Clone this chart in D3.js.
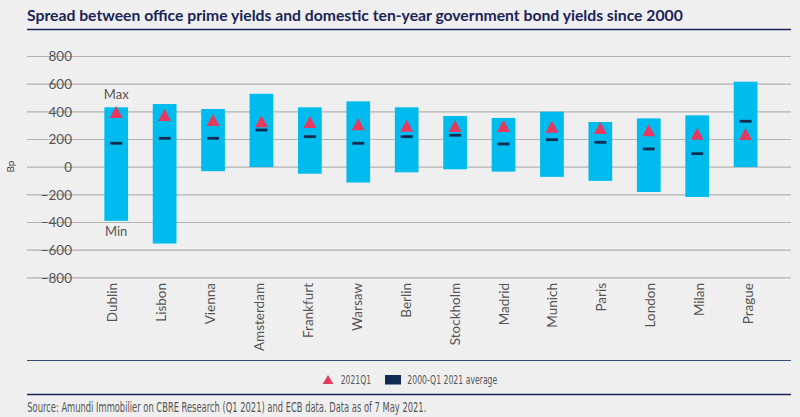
<!DOCTYPE html>
<html><head><meta charset="utf-8">
<script src="https://cdn.jsdelivr.net/npm/d3@7"></script>
<style>
html,body{margin:0;padding:0;background:#efefef;}
svg{display:block;}
</style></head>
<body>
<svg id="chart" width="800" height="417"></svg>
<script>
const cities = ["Dublin","Lisbon","Vienna","Amsterdam","Frankfurt","Warsaw","Berlin","Stockholm","Madrid","Munich","Paris","London","Milan","Prague"];
const maxValues = [429, 453, 417, 527, 429, 472, 429, 366, 352, 397, 323, 349, 371, 614];
const minValues = [-392, -556, -33, -3, -51, -115, -41, -19, -36, -74, -103, -183, -219, -3];
const q1Values  = [396, 373, 337, 328, 323, 306, 295, 293, 294, 289, 279, 263, 238, 236];
const avgValues = [169, 205, 205, 265, 217, 169, 217, 227, 164, 195, 176, 128, 94, 328];
const yTicks = [-800, -600, -400, -200, 0, 200, 400, 600, 800];
const titleText = "Spread between office prime yields and domestic ten-year government bond yields since 2000";
const sourceText = "Source: Amundi Immobilier on CBRE Research (Q1 2021) and ECB data. Data as of 7 May 2021.";
const legendLabels = ["2021Q1", "2000-Q1 2021 average"];

const BAR = "#00bcee", TRI = "#e8385f", NAVY = "#0f2d52", GRAY = "#555", TITLE = "#1a2456";
const svg = d3.select("#chart");
const baseFont = "Lato, 'Open Sans', sans-serif";
const narrowFont = "'Liberation Sans Narrow', 'DejaVu Sans Condensed', 'Liberation Sans', sans-serif";

const x = d3.scaleBand().domain(cities).range([92, 769.8]).paddingInner(0.51).paddingOuter(0.255);
const xl = d3.scalePoint().domain(cities).range([112.7, 748.3]);
const y = d3.scaleLinear().domain([-800, 800]).range([277.3, 56]);

// Title
const t = svg.append("text").attr("x", 27).attr("y", 21).text(titleText)
  .attr("font-family", "Lato, 'Open Sans', sans-serif").attr("font-weight", 700)
  .attr("font-size", 15).attr("fill", TITLE);
const tw = t.node().getComputedTextLength();
t.attr("font-size", 15 * 656 / tw);
svg.append("line").attr("x1", 27).attr("x2", 791).attr("y1", 29.5).attr("y2", 29.5)
  .attr("stroke", TITLE).attr("stroke-width", 1.6);

// Grid
const yAxis = d3.axisLeft(y).tickValues(yTicks).tickSize(-764).tickPadding(0).tickFormat(d3.format("d"));
const ga = svg.append("g").attr("transform", "translate(27,0)").call(yAxis);
ga.select(".domain").remove();
ga.selectAll(".tick line").attr("stroke", "#b3b3b3").attr("stroke-width", 1.2);
ga.selectAll(".tick text").attr("x", 45).attr("dy", "0.35em").attr("text-anchor", "end")
  .attr("font-family", baseFont).attr("font-size", 13.5).attr("fill", GRAY);

svg.append("text").attr("transform", "translate(10,166.5) rotate(-90)")
  .attr("text-anchor", "middle").attr("dy", "0.35em").text("Bp")
  .attr("font-family", baseFont).attr("font-size", 10).attr("fill", "#444");

// Bars
svg.append("g").selectAll("rect").data(cities).join("rect")
  .attr("x", d => x(d)).attr("width", x.bandwidth())
  .attr("y", (d, i) => y(maxValues[i]))
  .attr("height", (d, i) => y(minValues[i]) - y(maxValues[i]))
  .attr("fill", BAR);

// Average dashes
svg.append("g").selectAll("rect").data(cities).join("rect")
  .attr("x", d => x(d) + x.bandwidth() / 2 - 6).attr("width", 12)
  .attr("y", (d, i) => y(avgValues[i]) - 1.4).attr("height", 2.8)
  .attr("fill", NAVY);

// Triangles
const triPath = (cx, cy, hw, hh) => `M${cx},${cy - hh}L${cx + hw},${cy + hh}L${cx - hw},${cy + hh}Z`;
svg.append("g").selectAll("path").data(cities).join("path")
  .attr("d", (d, i) => triPath(x(d) + x.bandwidth() / 2, y(q1Values[i]), 6.5, 6))
  .attr("fill", TRI);

// Max / Min annotations
const dc = x(cities[0]) + x.bandwidth() / 2;
svg.append("text").attr("x", dc).attr("y", y(maxValues[0]) - 8).attr("text-anchor", "middle")
  .text("Max").attr("font-family", baseFont).attr("font-size", 13).attr("fill", GRAY);
svg.append("text").attr("x", dc).attr("y", y(minValues[0]) + 15.5).attr("text-anchor", "middle")
  .text("Min").attr("font-family", baseFont).attr("font-size", 13).attr("fill", GRAY);

// City labels
svg.append("g").selectAll("text").data(cities).join("text")
  .attr("transform", d => `translate(${xl(d)},283) rotate(-90)`)
  .attr("text-anchor", "end").attr("dy", "0.35em").text(d => d)
  .attr("font-family", baseFont).attr("font-size", 13.5).attr("fill", GRAY);

// Legend
svg.append("line").attr("x1", 27).attr("x2", 791).attr("y1", 360.5).attr("y2", 360.5)
  .attr("stroke", "#34506e").attr("stroke-width", 1);
svg.append("path").attr("d", triPath(328, 379.5, 5.3, 4.6)).attr("fill", TRI);
svg.append("text").attr("x", 340.7).attr("y", 380).attr("dy", "0.35em").text(legendLabels[0])
  .attr("font-family", narrowFont).attr("font-size", 12.5).attr("fill", GRAY)
  .attr("textLength", 30.5).attr("lengthAdjust", "spacingAndGlyphs");
svg.append("rect").attr("x", 385).attr("y", 375).attr("width", 16).attr("height", 9.5).attr("fill", NAVY);
svg.append("text").attr("x", 407.3).attr("y", 380).attr("dy", "0.35em").text(legendLabels[1])
  .attr("font-family", narrowFont).attr("font-size", 12.5).attr("fill", GRAY)
  .attr("textLength", 90).attr("lengthAdjust", "spacingAndGlyphs");
svg.append("line").attr("x1", 27).attr("x2", 791).attr("y1", 394.5).attr("y2", 394.5)
  .attr("stroke", TITLE).attr("stroke-width", 1.4);

// Source
svg.append("text").attr("x", 27.3).attr("y", 407).attr("dy", "0.35em").text(sourceText)
  .attr("font-family", narrowFont).attr("font-size", 13.5).attr("fill", GRAY)
  .attr("textLength", 399).attr("lengthAdjust", "spacingAndGlyphs");
</script>
</body></html>
